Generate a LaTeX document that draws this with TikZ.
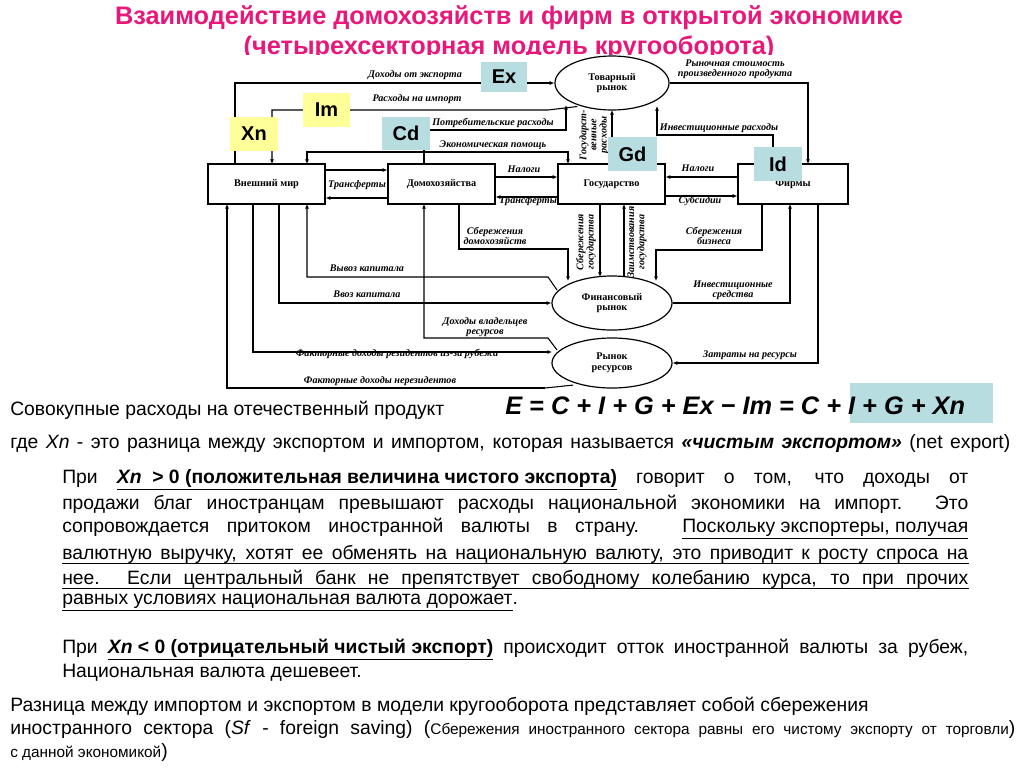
\documentclass[tikz,border=0pt]{standalone}
\usepackage{fontspec}
\setmainfont{Liberation Sans}
\newfontfamily\dser{Liberation Serif}
\newcommand{\uln}[1]{\underline{#1}}
\usetikzlibrary{shapes.geometric,arrows.meta}
\definecolor{ttl}{HTML}{E8177A}
\definecolor{lb}{HTML}{B7DDE0}
\definecolor{ly}{HTML}{FFFF99}
\tikzset{
 rbox/.style={draw,line width=0.9pt,minimum width=107*0.75pt,minimum height=40*0.75pt,font=\dser\fontsize{7.7}{8}\selectfont\bfseries,inner sep=0},
 ell/.style={ellipse,draw,line width=0.9pt,font=\dser\fontsize{7.7}{8}\selectfont\bfseries,align=center,inner sep=0},
 lab/.style={font=\dser\fontsize{7.6}{7.6}\selectfont\bfseries\itshape,align=center,inner sep=0.5pt},
 ln/.style={line width=0.8pt},
 arr/.style={line width=0.8pt,-{Latex[length=3.5pt,width=3pt]}},
 tag/.style={inner sep=0,font=\fontsize{15}{15}\selectfont\bfseries},
 txt/.style={anchor=west,inner sep=0,font=\fontsize{14.5}{16}\selectfont},
 jl/.style={anchor=west,inner sep=0,text width=906*0.75pt,align=justify,font=\fontsize{14.5}{16}\selectfont},
}
\newcommand{\jj}[1]{{\parfillskip=0pt #1\par}}
\begin{document}
\begin{tikzpicture}[x=0.75pt,y=-0.75pt]
\useasboundingbox[fill=white] (0,0) rectangle (1024,768);
\node[font=\fontsize{19}{20}\selectfont\bfseries,text=ttl] (t1) at (509,18) {Взаимодействие домохозяйств и фирм в открытой экономике};
\node[font=\fontsize{19}{20}\selectfont\bfseries,text=ttl] (t2) at (509,48) {(четырехсекторная модель кругооборота)};
\fill[white] (200,55) rectangle (850,396);
% boxes
\node[rbox,minimum width=117*0.75pt] (vm) at (266.5,184) {Внешний мир};
\node[rbox] (dom) at (441.5,184) {Домохозяйства};
\node[rbox] (gos) at (611.5,184) {Государство};
\node[rbox,minimum width=110*0.75pt] (fir) at (793,184) {Фирмы};
\node[ell,minimum width=114*0.75pt,minimum height=54*0.75pt] (tr) at (612,83) {Товарный\\рынок};
\node[ell,minimum width=120*0.75pt,minimum height=54*0.75pt] (fr) at (612,303) {Финансовый\\рынок};
\node[ell,minimum width=120*0.75pt,minimum height=50*0.75pt] (rr) at (612,363) {Рынок\\ресурсов};
% top flows
\draw[arr] (235,164) -- (235,83) -- (tr.west);
\node[lab] (l1) at (415,75) {Доходы от экспорта};
\draw[arr] (tr.south west) ++(6,4) coordinate (c2) -- (548,110) -- (272,110) -- (272,164);
\node[lab] (l2) at (417,99) {Расходы на импорт};
\draw[arr] (424,164) -- (424,130) -- (566,130) -- (566,105);
\node[lab] (l3) at (493,123) {Потребительские расходы};
\draw[arr] (568,152) -- (307,152) -- (307,164);
\draw[arr] (440,152) -- (568,152) -- (568,164);
\node[lab] (l4) at (493,145) {Экономическая помощь};
\draw[arr] (vm.east|-0,170) -- (dom.west|-0,170);
\draw[arr] (dom.west|-0,198) -- (vm.east|-0,198);
\node[lab] (l5) at (357,185) {Трансферты};
\draw[arr] (dom.east|-0,177) -- (gos.west|-0,177);
\node[lab] (l6) at (524,169) {Налоги};
\draw[arr] (gos.west|-0,197) -- (dom.east|-0,197);
\node[lab] (l7) at (528,201) {Трансферты};
\draw[arr] (fir.west|-0,177) -- (gos.east|-0,177);
\node[lab] (l8) at (698,168) {Налоги};
\draw[arr] (gos.east|-0,196) -- (fir.west|-0,196);
\node[lab] (l9) at (700,201) {Субсидии};
\draw[arr] (612,164) -- (612,110);
\node[lab,rotate=90] (l10) at (594,135) {Государст-\\венные\\расходы};
\draw[arr] (773,164) -- (773,135) -- (657,135) -- (657,106);
\node[lab] (l11) at (719,128) {Инвестиционные расходы};
\draw[arr] (tr.east) -- (808,83) -- (808,164);
\node[lab] (l12) at (735,69) {Рыночная стоимость\\произведенного продукта};
% bottom flows
\draw[arr] (545,388) -- (227,388) -- (227,204);
\draw[ln] (rr.south west) ++(4,4) -- (545,388);
\node[lab] (l13) at (380,381) {Факторные доходы нерезидентов};
\draw[arr] (253,204) -- (253,352) -- (552,352);
\node[lab] (l14) at (397,354) {Факторные доходы резидентов из-за рубежа};
\draw[arr] (279,204) -- (279,303) -- (fr.west);
\node[lab] (l15) at (367,294) {Ввоз капитала};
\draw[arr] (557,290) -- (548,277) -- (307,277) -- (307,204);
\node[lab] (l16) at (367,268) {Вывоз капитала};
\draw[arr] (557,350) -- (548,338) -- (424,338) -- (424,204);
\node[lab] (l17) at (485,327) {Доходы владельцев\\ресурсов};
\draw[arr] (459,204) -- (459,249) -- (568,249) -- (568,281);
\node[lab] (l18) at (495,236) {Сбережения\\домохозяйств};
\draw[arr] (600,204) -- (600,277);
\node[lab,rotate=90] (l19) at (586,242) {Сбережения\\государства};
\draw[arr] (624,277) -- (624,204);
\node[lab,rotate=90] (l20) at (637,242) {Заимствования\\государства};
\draw[arr] (762,204) -- (762,250) -- (656,250) -- (656,281);
\node[lab] (l21) at (714,236) {Сбережения\\бизнеса};
\draw[arr] (fr.east) -- (790,303) -- (790,204);
\node[lab] (l22) at (733,290) {Инвестиционные\\средства};
\draw[arr] (818,204) -- (818,363) -- (rr.east);
\node[lab] (l23) at (750,355) {Затраты на ресурсы};
% tags
\node[tag,fill=lb,minimum width=46*0.75pt,minimum height=30*0.75pt] (ex) at (504,77) {Ex};
\node[tag,fill=ly,minimum width=47*0.75pt,minimum height=34*0.75pt] (im) at (326.5,110) {Im};
\node[tag,fill=ly,minimum width=48*0.75pt,minimum height=34*0.75pt] (xn) at (254,134) {Xn};
\node[tag,fill=lb,minimum width=48*0.75pt,minimum height=33*0.75pt] (cd) at (406,133.5) {Cd};
\node[tag,fill=lb,minimum width=49*0.75pt,minimum height=34*0.75pt] (gd) at (632.5,154) {Gd};
\node[tag,fill=lb,minimum width=48*0.75pt,minimum height=34*0.75pt] (id) at (778,164) {Id};
% text
\fill[lb] (850,383) rectangle (993,423);
\node[txt] (s1) at (10,410) {Совокупные расходы на отечественный продукт};
\node[txt,font=\fontsize{19}{20}\selectfont\bfseries\itshape] (f) at (505,406) {E = C + I + G + Ex − Im = C + I + G + Xn};
\node[anchor=west,inner sep=0,text width=1000*0.75pt,align=justify,font=\fontsize{14.5}{16}\selectfont] (s2) at (10,443) {\jj{где \textit{Xn} - это разница между экспортом и импортом, которая называется \textbf{\textit{«чистым экспортом»}} (net export)}};
\node[jl] (p1) at (62,480) {\jj{При \uln{\textbf{\textit{Xn}~~> 0 (положительная величина чистого экспорта)}} говорит о том, что доходы от}};
\node[jl] (p2) at (62,504) {\jj{продажи благ иностранцам превышают расходы национальной экономики на импорт. Это}};
\node[jl] (p3) at (62,529) {\jj{сопровождается притоком иностранной валюты в страну. \uln{Поскольку экспортеры, получая}}};
\node[jl] (p4) at (62,554) {\jj{валютную выручку, хотят ее обменять на национальную валюту, это приводит к росту спроса на}};
\draw[line width=0.6pt] (p4.south west) -- (p4.south east);
\node[jl] (p5) at (62,579) {\jj{нее. Если центральный банк не препятствует свободному колебанию курса, то при прочих}};
\draw[line width=0.6pt] (p5.south west) -- (p5.south east);
\node[txt] (p6) at (62,603) {\uln{равных условиях национальная валюта дорожает}.};
\node[jl] (p7) at (62,650) {\jj{При \uln{\textbf{\textit{Xn} < 0 (отрицательный чистый экспорт)}} происходит отток иностранной валюты за рубеж,}};
\node[txt] (p8) at (62,673) {Национальная валюта дешевеет.};
\node[txt] (r1) at (10,706) {Разница между импортом и экспортом в модели кругооборота представляет собой сбережения};
\node[anchor=west,inner sep=0,text width=1005*0.75pt,align=justify,font=\fontsize{14.5}{16}\selectfont] (r2) at (10,729) {\jj{иностранного сектора (\textit{Sf} - foreign saving) ({\fontsize{11.5}{13}\selectfont Сбережения иностранного сектора равны его чистому экспорту от торговли})}};
\node[txt,font=\fontsize{11.5}{13}\selectfont] (r3) at (10,752) {с данной экономикой\fontsize{14.5}{16}\selectfont)};
\end{tikzpicture}
\end{document}
